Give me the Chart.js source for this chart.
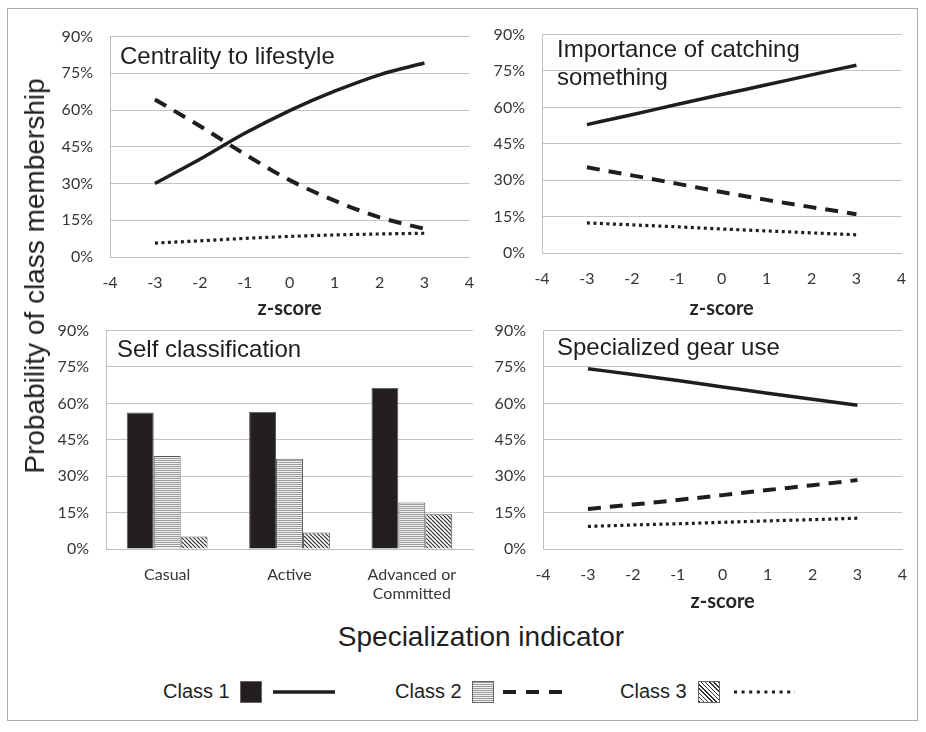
<!DOCTYPE html>
<html>
<head>
<meta charset="utf-8">
<script src="https://cdn.jsdelivr.net/npm/chart.js@4.4.1/dist/chart.umd.min.js"></script>
<style>
  body { margin: 0; background: #fff; width: 926px; height: 732px; position: relative; overflow: hidden;
         font-family: "Liberation Sans", Arial, sans-serif; color: #1e1e1e; }
  #frame { position: absolute; left: 7px; top: 8px; width: 909px; height: 711px; border: 1.5px solid #adadad; }
  canvas { position: absolute; }
  #yTitle { position: absolute; left: 35px; top: 276px; transform: translate(-50%, -50%) rotate(-90deg);
            font-size: 28px; white-space: nowrap; }
  #xTitle { position: absolute; left: 481px; top: 637px; transform: translate(-50%, -50%);
            font-size: 28px; white-space: nowrap; }
  .lg { position: absolute; top: 678px; font-size: 20px; line-height: 26px; white-space: nowrap; }
  .sw { position: absolute; top: 681px; width: 20px; height: 20px; border: 1px solid #666; }
  svg { position: absolute; top: 682px; }
</style>
</head>
<body>
<div id="frame"></div>
<canvas id="c1" width="450" height="315" style="left:40px;top:10px"></canvas>
<canvas id="c2" width="450" height="313" style="left:472px;top:8px"></canvas>
<canvas id="c3" width="450" height="305" style="left:36px;top:304px"></canvas>
<canvas id="c4" width="450" height="313" style="left:473px;top:304px"></canvas>

<div id="yTitle">Probability of class membership</div>
<div id="xTitle">Specialization indicator</div>

<div class="lg" style="left:163px">Class 1</div>
<div class="sw" style="left:240px;background:#231f20"></div>
<svg width="66" height="20" style="left:271px"><line x1="2" y1="10" x2="64" y2="10" stroke="#1e1e1e" stroke-width="3.5"/></svg>

<div class="lg" style="left:395px">Class 2</div>
<div class="sw" style="left:472px;background:repeating-linear-gradient(to bottom,#9c9c9c 0 1px,#f0f0f0 1px 2px)"></div>
<svg width="66" height="20" style="left:502px"><line x1="1" y1="10" x2="64" y2="10" stroke="#1e1e1e" stroke-width="4" stroke-dasharray="13 10"/></svg>

<div class="lg" style="left:620px">Class 3</div>
<div class="sw" style="left:698px;background:repeating-linear-gradient(45deg,#333 0 1px,#fff 1px 3px)"></div>
<svg width="66" height="20" style="left:733px"><line x1="1" y1="10" x2="62" y2="10" stroke="#1e1e1e" stroke-width="3" stroke-dasharray="3 4.6"/></svg>

<script>
// values (percent)
var zScores = [-3, -2, -1, 0, 1, 2, 3];
var xTickValues = [-4, -3, -2, -1, 0, 1, 2, 3, 4];
var yTickValues = [0, 15, 30, 45, 60, 75, 90];

var centralityClass1 = [30.0, 39.9, 50.5, 59.8, 67.7, 74.4, 79.2];
var centralityClass2 = [64.3, 53.5, 42.0, 31.4, 23.0, 16.2, 11.5];
var centralityClass3 = [5.7, 6.6, 7.6, 8.4, 9.0, 9.4, 9.7];

var catchingClass1 = [52.9, 57.0, 61.2, 65.3, 69.3, 73.4, 77.4];
var catchingClass2 = [35.3, 32.0, 28.6, 25.1, 21.9, 18.9, 16.0];
var catchingClass3 = [12.4, 11.6, 10.8, 9.9, 9.1, 8.3, 7.5];

var gearClass1 = [74.3, 71.9, 69.4, 66.8, 64.2, 61.7, 59.2];
var gearClass2 = [16.5, 18.3, 20.2, 22.2, 24.3, 26.3, 28.4];
var gearClass3 = [9.3, 9.9, 10.4, 11.0, 11.6, 12.1, 12.7];

var selfCategories = ['Casual', 'Active', ['Advanced or', 'Committed']];
var selfClass1 = [56.3, 56.6, 66.5];
var selfClass2 = [38.3, 37.2, 19.2];
var selfClass3 = [5.2, 6.8, 14.3];

var classNames = ['Class 1', 'Class 2', 'Class 3'];

Chart.defaults.font.family = 'Lato, "Open Sans", sans-serif';
Chart.defaults.color = '#363636';

// hatch fills for the bars
function stripes() {
    var c = document.createElement('canvas');
    c.width = 4; c.height = 2;
    var x = c.getContext('2d');
    x.fillStyle = '#f0f0f0'; x.fillRect(0, 0, 4, 2);
    x.fillStyle = '#9c9c9c'; x.fillRect(0, 0, 4, 1);
    return x.createPattern(c, 'repeat');
}
function diagonals() {
    var c = document.createElement('canvas');
    c.width = 4; c.height = 4;
    var x = c.getContext('2d');
    x.fillStyle = '#fff'; x.fillRect(0, 0, 4, 4);
    x.strokeStyle = '#2e2e2e'; x.lineWidth = 1.2;
    for (var k = -1; k <= 1; k++) {
        x.beginPath(); x.moveTo(k * 4, 0); x.lineTo(k * 4 + 4, 4); x.stroke();
    }
    return x.createPattern(c, 'repeat');
}

// panel caption drawn inside the plot area
var panelTitle = {
    id: 'panelTitle',
    afterDraw: function (chart, args, opts) {
        var ctx = chart.ctx, a = chart.chartArea;
        ctx.save();
        ctx.font = '24px "Liberation Sans", Arial, sans-serif';
        ctx.fillStyle = '#1e1e1e';
        ctx.textBaseline = 'alphabetic';
        opts.lines.forEach(function (t, i) {
            ctx.fillText(t, a.left + opts.dx, a.top + opts.dy + i * 28);
        });
        ctx.restore();
    }
};

function yScale() {
    return {
        min: 0, max: 90,
        afterBuildTicks: function (s) { s.ticks = yTickValues.map(function (v) { return { value: v }; }); },
        afterFit: function (s) { s.width = 70; },
        ticks: { padding: 17, font: { size: 16 }, callback: function (v) { return v + '%'; } },
        grid: { color: '#c4c4c4', drawTicks: false },
        border: { display: true, color: '#bdbdbd' }
    };
}

function pts(vals) {
    return vals.map(function (v, i) { return { x: zScores[i], y: v }; });
}

function lineChart(id, c1, c2, c3, title, pad, titleGap) {
    var common = { borderColor: '#1e1e1e', pointRadius: 0, fill: false, cubicInterpolationMode: 'monotone' };
    new Chart(document.getElementById(id), {
        type: 'line',
        data: {
            datasets: [
                Object.assign({ label: classNames[0], data: pts(c1), borderWidth: 3.5 }, common),
                Object.assign({ label: classNames[1], data: pts(c2), borderWidth: 4, borderDash: [13, 9] }, common),
                Object.assign({ label: classNames[2], data: pts(c3), borderWidth: 3.2, borderDash: [3, 3.5] }, common)
            ]
        },
        options: {
            responsive: false,
            animation: false,
            events: [],
            layout: { padding: pad },
            plugins: { legend: { display: false }, tooltip: { enabled: false }, panelTitle: title },
            scales: {
                x: {
                    type: 'linear', min: -4, max: 4,
                    afterBuildTicks: function (s) { s.ticks = xTickValues.map(function (v) { return { value: v }; }); },
                    afterFit: function (s) { s.height = 68; },
                    ticks: { padding: 16, font: { size: 16 } },
                    grid: { display: false, drawTicks: false },
                    border: { display: true, color: '#bdbdbd' },
                    title: { display: true, text: 'z-score', color: '#262626',
                             font: { size: 20, weight: 'bold' }, padding: { top: 0, bottom: titleGap } }
                },
                y: yScale()
            }
        },
        plugins: [panelTitle]
    });
}

lineChart('c1', centralityClass1, centralityClass2, centralityClass3,
    { lines: ['Centrality to lifestyle'], dx: 10, dy: 27 }, { top: 15, left: 0, right: 12, bottom: 0 }, 4);
lineChart('c2', catchingClass1, catchingClass2, catchingClass3,
    { lines: ['Importance of catching', 'something'], dx: 15, dy: 22 }, { top: 15, left: 0, right: 13, bottom: 0 }, 0);
lineChart('c4', gearClass1, gearClass2, gearClass3,
    { lines: ['Specialized gear use'], dx: 14, dy: 24 }, { top: 15, left: 0, right: 12, bottom: 0 }, 3);

var barCommon = { borderColor: '#555', borderWidth: 1, categoryPercentage: 0.66, barPercentage: 1.0 };
new Chart(document.getElementById('c3'), {
    type: 'bar',
    data: {
        labels: selfCategories,
        datasets: [
            Object.assign({ label: classNames[0], data: selfClass1, backgroundColor: '#231f20' }, barCommon),
            Object.assign({ label: classNames[1], data: selfClass2, backgroundColor: stripes() }, barCommon),
            Object.assign({ label: classNames[2], data: selfClass3, backgroundColor: diagonals() }, barCommon)
        ]
    },
    options: {
        responsive: false,
        animation: false,
        events: [],
        layout: { padding: { top: 15, left: 0, right: 13, bottom: 0 } },
        plugins: { legend: { display: false }, tooltip: { enabled: false },
                   panelTitle: { lines: ['Self classification'], dx: 11, dy: 26 } },
        scales: {
            x: {
                afterFit: function (s) { s.height = 60; },
                ticks: { padding: 16, font: { size: 16 } },
                grid: { display: false, drawTicks: false },
                border: { display: true, color: '#bdbdbd' }
            },
            y: yScale()
        }
    },
    plugins: [panelTitle]
});
</script>
</body>
</html>
